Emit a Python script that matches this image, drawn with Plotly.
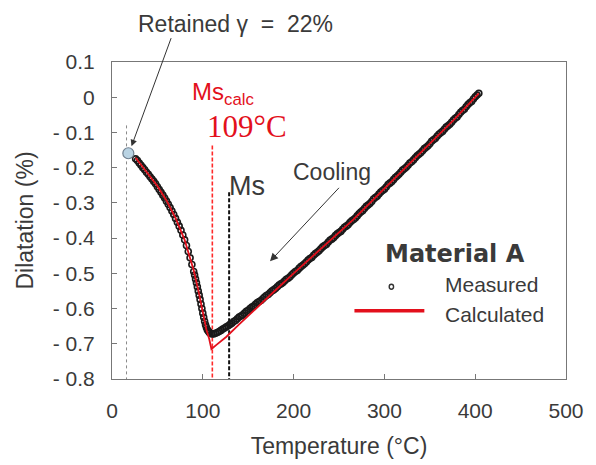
import plotly.graph_objects as go

# ---------------- data ----------------
meas_T = [26, 28, 30, 32, 34, 36, 38, 40, 42, 44, 46, 48, 50, 52, 54, 56, 58, 60,
          62, 64, 66, 68, 70, 72, 74, 76, 78, 80, 82, 84, 86, 88, 90, 91, 92, 93,
          94, 95, 96, 97, 98, 99, 100, 101, 102, 103, 104, 105, 106, 107, 108, 110,
          112, 114, 116, 118, 120, 122, 124, 126, 128,
          130, 132, 134, 136, 138, 140, 142, 144, 146, 148, 150, 152, 154, 156, 158,
          160, 162, 164, 166, 168, 170, 172, 174, 176, 178, 180, 182, 184, 186, 188,
          190, 192, 194, 196, 198, 200, 202, 204, 206, 208, 210, 212, 214, 216, 218,
          220, 222, 224, 226, 228, 230, 232, 234, 236, 238, 240, 242, 244, 246, 248,
          250, 252, 254, 256, 258, 260, 262, 264, 266, 268, 270, 272, 274, 276, 278,
          280, 282, 284, 286, 288, 290, 292, 294, 296, 298, 300, 302, 304, 306, 308,
          310, 312, 314, 316, 318, 320, 322, 324, 326, 328, 330, 332, 334, 336, 338,
          340, 342, 344, 346, 348, 350, 352, 354, 356, 358, 360, 362, 364, 366, 368,
          370, 372, 374, 376, 378, 380, 382, 384, 386, 388, 390, 392, 394, 396, 398,
          400, 402, 404]
meas_D = [-0.175, -0.180, -0.187, -0.193, -0.200, -0.206, -0.213, -0.219, -0.226,
          -0.232, -0.239, -0.246, -0.254, -0.262, -0.270, -0.278, -0.286, -0.295,
          -0.304, -0.313, -0.323, -0.333, -0.344, -0.355, -0.366, -0.378, -0.391,
          -0.405, -0.421, -0.438, -0.456, -0.475, -0.495, -0.505, -0.516, -0.527,
          -0.538, -0.550, -0.562, -0.574, -0.587, -0.600, -0.613, -0.625, -0.636,
          -0.646, -0.654, -0.660, -0.664, -0.667, -0.670, -0.672, -0.672, -0.670,
          -0.668, -0.665, -0.662, -0.658, -0.655, -0.652, -0.649,
          -0.645, -0.642, -0.637, -0.634, -0.629, -0.624, -0.621, -0.618, -0.613,
          -0.608, -0.605, -0.600, -0.596, -0.593, -0.588, -0.583, -0.580, -0.577,
          -0.572, -0.567, -0.563, -0.560, -0.555, -0.550, -0.547, -0.543, -0.538,
          -0.533, -0.530, -0.527, -0.522, -0.517, -0.514, -0.510, -0.504, -0.499,
          -0.495, -0.492, -0.486, -0.481, -0.477, -0.473, -0.468, -0.462, -0.458,
          -0.455, -0.449, -0.444, -0.440, -0.436, -0.430, -0.425, -0.421, -0.418,
          -0.412, -0.406, -0.403, -0.399, -0.393, -0.388, -0.384, -0.381, -0.375,
          -0.369, -0.366, -0.362, -0.356, -0.351, -0.347, -0.343, -0.337, -0.331,
          -0.326, -0.322, -0.316, -0.310, -0.306, -0.302, -0.296, -0.289, -0.285,
          -0.281, -0.275, -0.269, -0.265, -0.261, -0.255, -0.248, -0.244, -0.240,
          -0.234, -0.228, -0.224, -0.219, -0.213, -0.207, -0.203, -0.199, -0.193,
          -0.187, -0.183, -0.178, -0.172, -0.166, -0.162, -0.158, -0.152, -0.146,
          -0.142, -0.138, -0.132, -0.125, -0.121, -0.117, -0.111, -0.105, -0.101,
          -0.097, -0.091, -0.085, -0.081, -0.077, -0.071, -0.065, -0.060, -0.056,
          -0.049, -0.043, -0.038, -0.034, -0.027, -0.021, -0.016, -0.012, -0.005,
          0.001, 0.006, 0.011]

calc_T = [26, 40, 50, 60, 70, 80, 90, 95, 100, 104, 107, 109.5, 115, 120, 126,
          140, 163, 180, 200, 230, 266, 303, 340, 377, 404]
calc_D = [-0.172, -0.217, -0.252, -0.293, -0.343, -0.405, -0.492, -0.547, -0.612,
          -0.660, -0.686, -0.715, -0.703, -0.692, -0.680, -0.645, -0.588, -0.548,
          -0.500, -0.430, -0.347, -0.252, -0.157, -0.063, 0.011]

retained_T = [18]
retained_D = [-0.159]

ms_calc_T = 110.5      # calculated Ms line
ms_calc_label = "109°C"
ms_T = 129             # measured Ms line
room_T = 16            # dotted reference line

x_ticks = [0, 100, 200, 300, 400, 500]
x_ticktext = ["0", "100", "200", "300", "400", "500"]
y_ticks = [0.1, 0, -0.1, -0.2, -0.3, -0.4, -0.5, -0.6, -0.7, -0.8]
y_ticktext = ["0.1", "0", "- 0.1", "- 0.2", "- 0.3", "- 0.4", "- 0.5",
              "- 0.6", "- 0.7", "- 0.8"]

# ---------------- figure ----------------
TXT = "#3a3a3a"
RED = "#e3101c"
FONT = "Liberation Sans, Arial, sans-serif"

fig = go.Figure()

# reference vertical lines
fig.add_trace(go.Scatter(x=[room_T, room_T], y=[-0.08, -0.8], mode="lines",
                         line=dict(color="#8a8a8a", width=1, dash="dot"),
                         showlegend=False, hoverinfo="skip"))
fig.add_trace(go.Scatter(x=[ms_calc_T, ms_calc_T], y=[-0.137, -0.8], mode="lines",
                         line=dict(color="#ff2a2a", width=1.6, dash="4px,2px"),
                         showlegend=False, hoverinfo="skip"))
fig.add_trace(go.Scatter(x=[ms_T, ms_T], y=[-0.27, -0.8], mode="lines",
                         line=dict(color="#111111", width=2, dash="4px,2px"),
                         showlegend=False, hoverinfo="skip"))

# measured
fig.add_trace(go.Scatter(x=meas_T, y=meas_D, mode="markers", name="Measured",
                         marker=dict(symbol="circle-open", size=6, color="#1a1a1a",
                                     line=dict(width=1.6)),
                         showlegend=False))
# calculated
fig.add_trace(go.Scatter(x=calc_T, y=calc_D, mode="lines", name="Calculated",
                         line=dict(color=RED, width=1.8), showlegend=False))

# retained austenite point
fig.add_trace(go.Scatter(x=retained_T, y=retained_D, mode="markers",
                         marker=dict(size=11, color="#b9d3e3",
                                     line=dict(color="#6f7f8f", width=1.2)),
                         showlegend=False))

annotations = [
    dict(x=0.273, y=1.12, xref="paper", yref="paper", text="Retained γ  =  22%",
         showarrow=False, font=dict(size=23, color=TXT, family=FONT),
         xanchor="center", yanchor="middle"),
    dict(x=21.5, y=-0.139, ax=65.7, ay=0.172, xref="x", yref="y", axref="x", ayref="y",
         text="", showarrow=True, arrowhead=2, arrowsize=1.3, arrowwidth=1,
         arrowcolor="#333333"),
    dict(x=85.6, y=0.01, xref="x", yref="y", text="Ms<sub>calc</sub>",
         showarrow=False, font=dict(size=24, color=RED, family=FONT),
         xanchor="left", yanchor="middle"),
    dict(x=102.5, y=-0.083, xref="x", yref="y", text=ms_calc_label,
         showarrow=False, font=dict(size=31, color=RED,
                                    family="Liberation Serif, Times New Roman, serif"),
         xanchor="left", yanchor="middle"),
    dict(x=126.5, y=-0.253, xref="x", yref="y", text="Ms",
         showarrow=False, font=dict(size=27, color=TXT, family=FONT),
         xanchor="left", yanchor="middle"),
    dict(x=242.5, y=-0.213, xref="x", yref="y", text="Cooling",
         showarrow=False, font=dict(size=23, color=TXT, family=FONT),
         xanchor="center", yanchor="middle"),
    dict(x=174, y=-0.466, ax=251.5, ay=-0.253, xref="x", yref="y", axref="x", ayref="y",
         text="", showarrow=True, arrowhead=2, arrowsize=1.6, arrowwidth=1,
         arrowcolor="#333333"),
    # legend
    dict(x=298, y=-0.446, xref="x", yref="y", text="<b>Material A</b>",
         showarrow=False, font=dict(size=24, color=TXT, family="DejaVu Sans, sans-serif"),
         xanchor="left", yanchor="middle"),
    dict(x=365, y=-0.532, xref="x", yref="y", text="Measured",
         showarrow=False, font=dict(size=21, color=TXT, family=FONT),
         xanchor="left", yanchor="middle"),
    dict(x=365, y=-0.617, xref="x", yref="y", text="Calculated",
         showarrow=False, font=dict(size=21, color=TXT, family=FONT),
         xanchor="left", yanchor="middle"),
]

shapes = [
    dict(type="circle", xref="x", yref="y", x0=305.3, x1=310.1, y0=-0.545, y1=-0.531,
         line=dict(color="#333333", width=1.4)),
    dict(type="line", xref="x", yref="y", x0=267, x1=344, y0=-0.606, y1=-0.606,
         line=dict(color=RED, width=3.5)),
]

fig.update_layout(
    width=596, height=465,
    margin=dict(l=112, r=30, t=62, b=86),
    paper_bgcolor="white", plot_bgcolor="white",
    font=dict(family=FONT, color=TXT),
    annotations=annotations, shapes=shapes,
    showlegend=False,
)
fig.update_xaxes(range=[0, 500], tickvals=x_ticks, ticktext=x_ticktext,
                 ticks="inside", ticklen=5, tickcolor="#777777", tickwidth=1,
                 showline=True, linecolor="#777777", linewidth=1.2, mirror=True,
                 showgrid=False, zeroline=False,
                 tickfont=dict(size=21, color=TXT), ticklabelstandoff=13,
                 title=dict(text="Temperature (°C)", font=dict(size=23, color=TXT),
                            standoff=16))
fig.update_yaxes(range=[-0.8, 0.1], tickvals=y_ticks, ticktext=y_ticktext,
                 ticks="inside", ticklen=5, tickcolor="#777777", tickwidth=1,
                 showline=True, linecolor="#777777", linewidth=1.2, mirror=True,
                 showgrid=False, zeroline=False,
                 tickfont=dict(size=21, color=TXT), ticklabelstandoff=12,
                 title=dict(text="Dilatation (%)", font=dict(size=23, color=TXT),
                            standoff=12))

fig.write_html("out.html")
